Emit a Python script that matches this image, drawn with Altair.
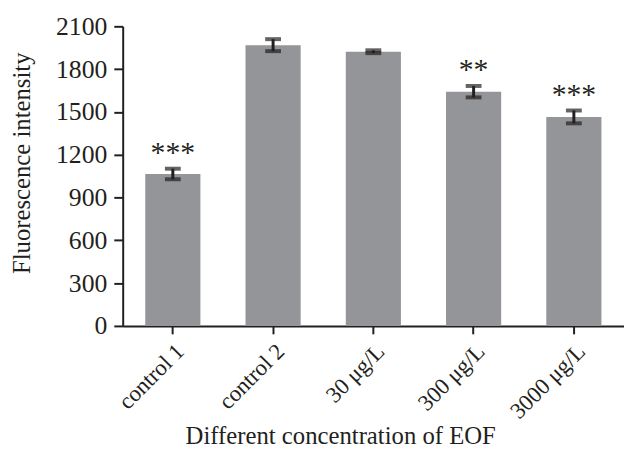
import altair as alt
import pandas as pd

groups = ["control 1", "control 2", "30 μg/L", "300 μg/L", "3000 μg/L"]
means = [1065, 1968, 1922, 1642, 1465]
errors = [37, 42, 10, 40, 45]
stars = ["***", "", "", "**", "***"]

df = pd.DataFrame({"group": groups, "mean": means, "err": errors, "star": stars})
df["lo"] = df["mean"] - df["err"]
df["hi"] = df["mean"] + df["err"]

FONT = "Liberation Serif"
GREY = "#949598"
INK = "#231f20"

xs = alt.X("group:N", sort=groups, title="Different concentration of EOF",
           scale=alt.Scale(paddingInner=0.45, paddingOuter=0.225),
           axis=alt.Axis(labelAngle=-45, tickSize=8, labelPadding=6, labelFontSize=23,
                         titleFontSize=25, titleX=220, titleY=119, titleAlign="center",
                         titleBaseline="alphabetic"))
yscale = alt.Scale(domain=[0, 2100], nice=False)
ys = alt.Y("mean:Q", scale=yscale, title="Fluorescence intensity",
           axis=alt.Axis(values=list(range(0, 2101, 300)), format="d", grid=False,
                         tickSize=9, labelPadding=7, titleFontSize=25, titleX=-94,
                         titleY=138, titleAngle=-90, titleAlign="center",
                         titleBaseline="alphabetic"))

base = alt.Chart(df)
bars = base.mark_bar(color=GREY).encode(x=xs, y=ys)
rules = base.mark_rule(color=INK, strokeWidth=3).encode(
    x=xs, y=alt.Y("lo:Q", scale=yscale), y2="hi:Q")
cap_lo = base.mark_tick(color=INK, thickness=4, size=16, orient="horizontal").encode(
    x=xs, y=alt.Y("lo:Q", scale=yscale))
cap_hi = base.mark_tick(color=INK, thickness=4, size=16, orient="horizontal").encode(
    x=xs, y=alt.Y("hi:Q", scale=yscale))
txt = base.mark_text(font=FONT, fontSize=30, baseline="alphabetic", dy=-7,
                     color=INK).encode(x=xs, y=alt.Y("hi:Q", scale=yscale), text="star:N")

chart = (bars + rules + cap_lo + cap_hi + txt).properties(
    width=507, height=303,
    autosize=alt.AutoSizeParams(type="none"),
    padding={"left": 116, "top": 16, "right": 0, "bottom": 126},
).configure_view(stroke=None).configure_axis(
    labelFont=FONT, titleFont=FONT, labelFontSize=26,
    labelColor=INK, titleColor=INK, domainColor=INK, tickColor=INK,
    domainWidth=2, tickWidth=2, titleFontWeight="normal", grid=False,
)

chart.save("out.html", embed_options={"renderer": "svg", "actions": False})
